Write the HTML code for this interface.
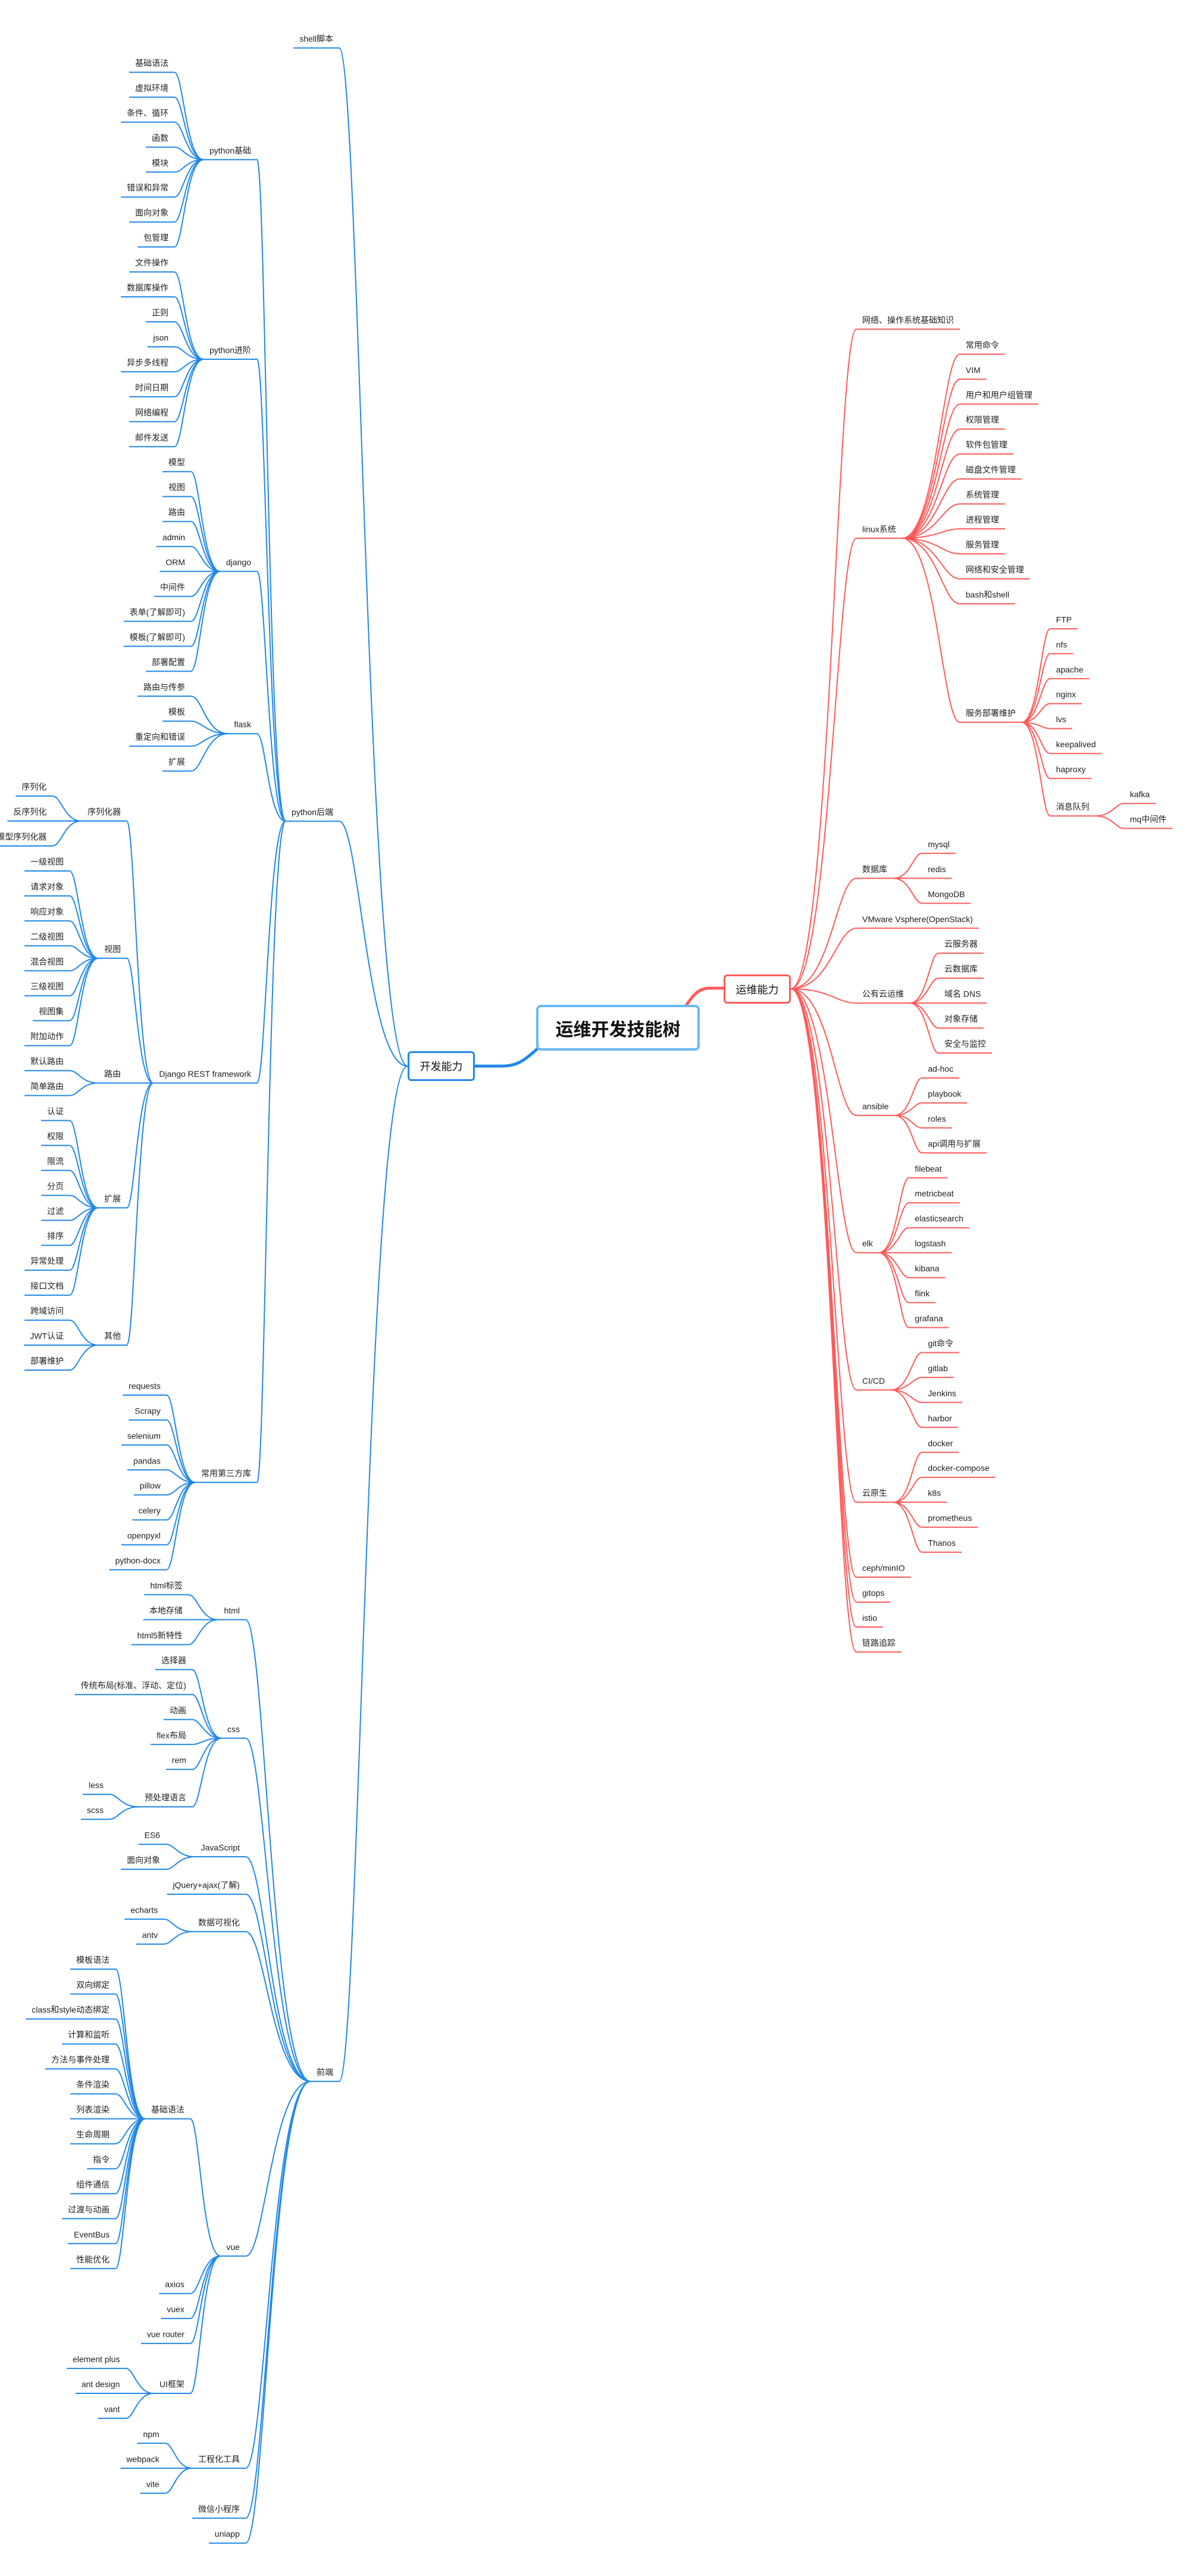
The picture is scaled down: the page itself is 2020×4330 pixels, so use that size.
<!DOCTYPE html>
<html><head><meta charset="utf-8">
<style>
html,body{margin:0;padding:0;background:#fff;}
body{width:2020px;height:4330px;overflow:hidden;position:relative;}
svg{position:absolute;left:0;top:0;}
svg text{font-family:"Liberation Sans","Noto Sans CJK SC",sans-serif;font-size:14px;fill:#1e1e1e;}
.box{position:absolute;box-sizing:border-box;background:#fff;display:flex;align-items:center;justify-content:center;font-family:"Liberation Sans","Noto Sans CJK SC",sans-serif;color:#111;}
</style></head>
<body>
<svg id="s" width="2020" height="4330" viewBox="0 0 2020 4330" xmlns="http://www.w3.org/2000/svg">
<path d="M798 1792 L842 1792 C868 1792 880 1784 904 1762" fill="none" stroke="#2188e6" stroke-width="5"/>
<path d="M1216 1661 L1192 1661 C1176 1661 1166 1670 1152 1692" fill="none" stroke="#ff5a5a" stroke-width="5"/>
</svg>
<div class="box" style="left:901px;top:1689px;width:275px;height:77px;border:4px solid #6cb8f6;border-radius:8px;font-size:30px;font-weight:bold;">运维开发技能树</div>
<div class="box" style="left:685px;top:1767px;width:113px;height:50px;border:3px solid #2188e6;border-radius:6px;font-size:18px;">开发能力</div>
<div class="box" style="left:1216px;top:1638px;width:113px;height:49px;border:3px solid #ff5a5a;border-radius:6px;font-size:18px;">运维能力</div>
<script>
(function(){
var S=2.76, NS="http://www.w3.org/2000/svg", svg=document.getElementById('s');
var BLUE="#2188e6", RED="#ff5a5a";
function leaves(arr,y0,x){return arr.map(function(t,i){return [t,y0+i*15.2,x,[]];});}
var LEFT=[
['shell脚本',23.6,202.9,[]],
['python后端',494.5,202.9,[
 ['python基础',91.6,152.9,leaves(['基础语法','虚拟环境','条件、循环','函数','模块','错误和异常','面向对象','包管理'],38.4,102.6)],
 ['python进阶',213.2,152.9,leaves(['文件操作','数据库操作','正则','json','异步多线程','时间日期','网络编程','邮件发送'],160,102.6)],
 ['django',342.4,152.9,leaves(['模型','视图','路由','admin','ORM','中间件','表单(了解即可)','模板(了解即可)','部署配置'],281.6,112.7)],
 ['flask',441.2,152.9,leaves(['路由与传参','模板','重定向和错误','扩展'],418.4,112.7)],
 ['Django REST framework',654,152.9,[
   ['序列化器',494.4,73.6,leaves(['序列化','反序列化','模型序列化器'],479.2,28.4)],
   ['视图',578,73.6,leaves(['一级视图','请求对象','响应对象','二级视图','混合视图','三级视图','视图集','附加动作'],524.8,38.8)],
   ['路由',654,73.6,leaves(['默认路由','简单路由'],646.4,38.8)],
   ['扩展',730,73.6,leaves(['认证','权限','限流','分页','过滤','排序','异常处理','接口文档'],676.8,38.8)],
   ['其他',813.6,73.6,leaves(['跨域访问','JWT认证','部署维护'],798.4,38.8)]]],
 ['常用第三方库',897.2,152.9,leaves(['requests','Scrapy','selenium','pandas','pillow','celery','openpyxl','python-docx'],844,97.8)]
]],
['前端',1262,202.9,[
 ['html',980.8,146,leaves(['html标签','本地存储','html5新特性'],965.6,111.2)],
 ['css',1053,146,leaves(['选择器','传统布局(标准、浮动、定位)','动画','flex布局','rem'],1011.2,113.4).concat([['预处理语言',1094.8,113.4,leaves(['less','scss'],1087.2,63)]])],
 ['JavaScript',1125.2,146,leaves(['ES6','面向对象'],1117.6,97.5)],
 ['jQuery+ajax(了解)',1148,146,[]],
 ['数据可视化',1170.8,146,leaves(['echarts','antv'],1163.2,96.1)],
 ['vue',1368.4,146,[
   ['基础语法',1284.8,112.3,leaves(['模板语法','双向绑定','class和style动态绑定','计算和监听','方法与事件处理','条件渲染','列表渲染','生命周期','指令','组件通信','过渡与动画','EventBus','性能优化'],1193.6,66.7)],
   ['axios',1391.2,112.3,[]],['vuex',1406.4,112.3,[]],['vue router',1421.6,112.3,[]],
   ['UI框架',1452,112.3,leaves(['element plus','ant design','vant'],1436.8,73)]]],
 ['工程化工具',1497.6,146,leaves(['npm','webpack','vite'],1482.4,97)],
 ['微信小程序',1528,146,[]],['uniapp',1543.2,146,[]]
]]];
var RIGHT=[
['网络、操作系统基础知识',194.9,525,[]],
['linux系统',322.2,525,leaves(['常用命令','VIM','用户和用户组管理','权限管理','软件包管理','磁盘文件管理','系统管理','进程管理','服务管理','网络和安全管理','bash和shell'],210.1,588).concat([
  ['服务部署维护',434.3,588,leaves(['FTP','nfs','apache','nginx','lvs','keepalived','haproxy'],377.3,643).concat([['消息队列',491.3,643,leaves(['kafka','mq中间件'],483.7,688)]])]])],
['数据库',529.3,525,leaves(['mysql','redis','MongoDB'],514.1,565)],
['VMware Vsphere(OpenStack)',559.7,525,[]],
['公有云运维',605.3,525,leaves(['云服务器','云数据库','域名 DNS','对象存储','安全与监控'],574.9,575)],
['ansible',673.7,525,leaves(['ad-hoc','playbook','roles','api调用与扩展'],650.9,565)],
['elk',757.3,525,leaves(['filebeat','metricbeat','elasticsearch','logstash','kibana','flink','grafana'],711.7,557)],
['CI/CD',840.9,525,leaves(['git命令','gitlab','Jenkins','harbor'],818.1,565)],
['云原生',909.3,525,leaves(['docker','docker-compose','k8s','prometheus','Thanos'],878.9,565)],
['ceph/minIO',954.9,525,[]],['gitops',970.1,525,[]],['istio',985.3,525,[]],['链路追踪',1000.5,525,[]]
];
function el(tag,attrs){var e=document.createElementNS(NS,tag);for(var k in attrs)e.setAttribute(k,attrs[k]);svg.appendChild(e);return e;}
function curve(C,P,col){
  var dx=P[0]-C[0];
  el('path',{d:'M'+C[0]+' '+C[1]+' C'+(C[0]+0.3*dx)+' '+C[1]+' '+(C[0]+0.4*dx)+' '+P[1]+' '+P[0]+' '+P[1],fill:'none',stroke:col,'stroke-width':2});
}
function draw(n,left,P,col){
  var yc=n[1]*S, x=n[2]*S;
  var t=el('text',{x:x,y:yc+5,'text-anchor':left?'end':'start'});
  t.textContent=n[0];
  var w=t.getComputedTextLength();
  var uy=yc+15.5, x0,x1,C,Q;
  if(left){x0=x-w-10;x1=x+10;C=[x1,uy];Q=[x0,uy];}
  else{x0=x-10;x1=x+w+10;C=[x0,uy];Q=[x1,uy];}
  el('line',{x1:x0,y1:uy,x2:x1,y2:uy,stroke:col,'stroke-width':2});
  curve(C,P,col);
  for(var i=0;i<n[3].length;i++)draw(n[3][i],left,Q,col);
}
LEFT.forEach(function(n){draw(n,true,[685,1792],BLUE);});
RIGHT.forEach(function(n){draw(n,false,[1329,1662],RED);});
})();
</script>
</body></html>
